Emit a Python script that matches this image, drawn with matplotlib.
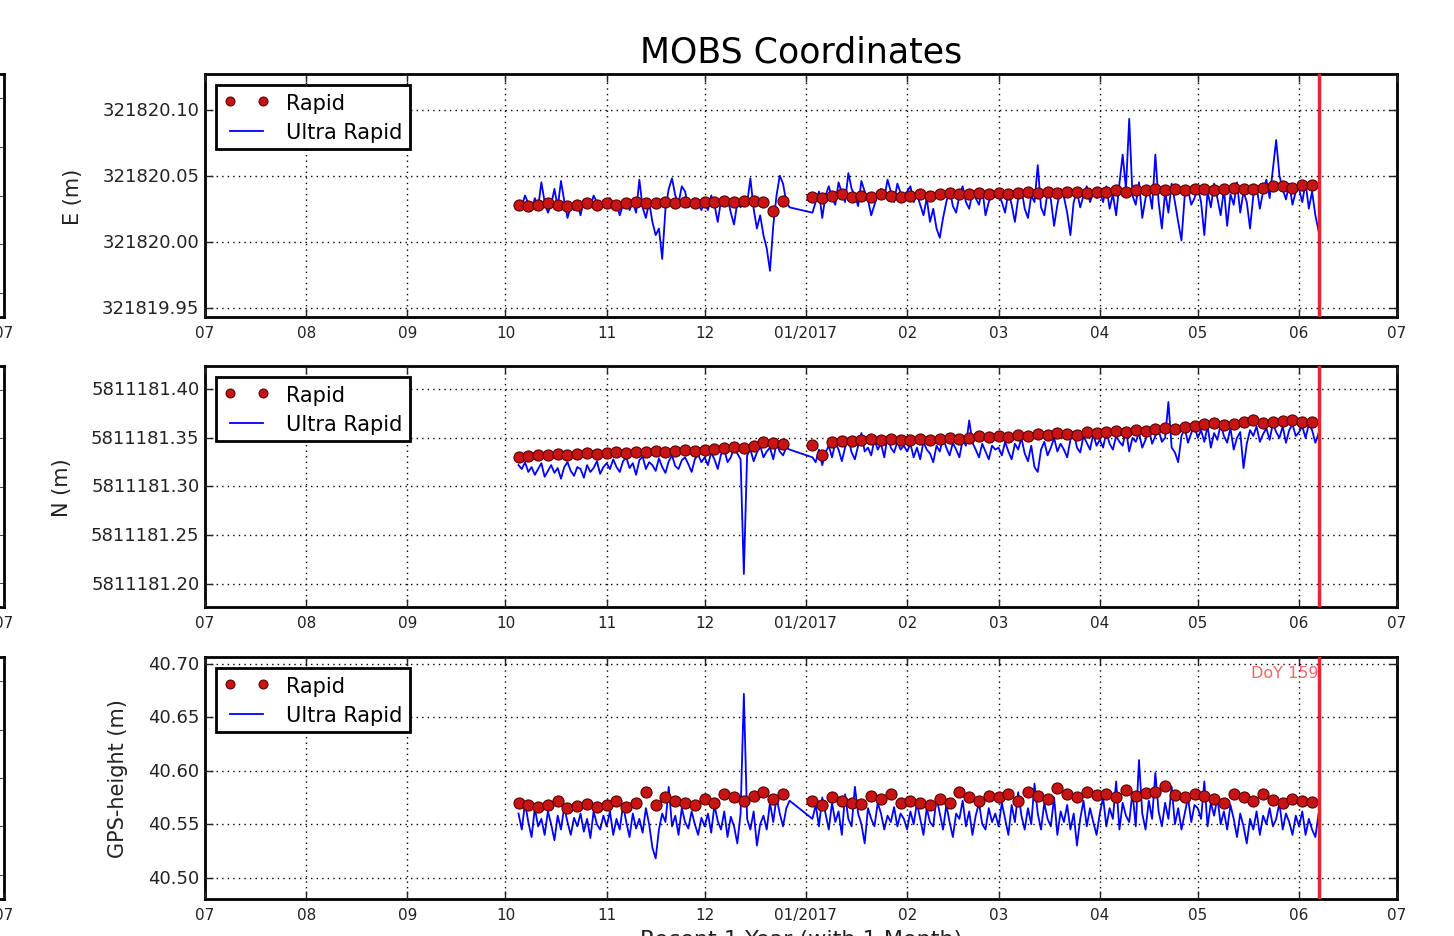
import numpy as np
import pandas as pd
import matplotlib
matplotlib.use('Agg')
import matplotlib.pyplot as plt
import matplotlib.dates as mdates
from matplotlib.ticker import FormatStrFormatter, MultipleLocator, FuncFormatter

nan = np.nan

# ultra rapid solutions, one per day from 2016-10-05, offsets in mm
e_ur = [30, 27, 35, 29, 24, 33, 26, 45, 30, 22, 28, 40, 26, 46, 31, 18, 27, 24, 29, 20, 32, 28, 26, 35, 30, 27, 31,
        27, 33, 25, 29, 20, 28, 31, 24, 30, 22, 47, 26, 18, 30, 15, 5, 10, -13, 25, 40, 48, 35, 29, 42, 38, 26, 30, 33, 28, 24,
        30, 24, 35, 28, 15, 31, 27, 33, 22, 13, 30, 26, 34, 29, 48, 25, 10, 20, 5, -5, -22, 12, 35, 50, 44, 30, 26, nan, nan, nan, nan,
        nan, nan, 22, 30, 38, 18, 35, 42, 33, 28, 45, 37, 30, 52, 40, 35, 27, 46, 38, 32, 20, 28, 36, 40, 33, 47, 38, 30, 44, 37, 35,
        38, 42, 30, 36, 28, 20, 33, 15, 25, 10, 3, 18, 30, 40, 27, 22, 35, 42, 30, 25, 37, 33, 28, 40, 20, 30, 38, 34,
        36, 30, 22, 38, 28, 15, 33, 40, 25, 18, 35, 30, 58, 26, 20, 38, 32, 12, 28, 40, 34, 22, 5, 30, 38, 26, 35, 42, 30, 37, 33,
        38, 30, 42, 25, 36, 20, 44, 66, 40, 93, 35, 28, 45, 18, 33, 40, 25, 66, 30, 10, 38, 22, 44, 30, 15, 1, 35, 40, 28, 33,
        42, 30, 5, 38, 26, 44, 33, 20, 40, 12, 36, 28, 45, 22, 38, 30, 10, 35, 42, 25, 38, 47, 33, 55, 77, 50, 40, 32, 44, 28, 38,
        40, 30, 45, 25, 38, 20, 8]

n_ur = [322, 318, 325, 315, 320, 312, 318, 324, 310, 316, 322, 314, 319, 308, 320, 325, 316, 311, 320, 318, 309, 322, 315, 319, 326, 313, 320,
        324, 318, 328, 320, 315, 326, 330, 319, 324, 312, 327, 331, 318, 325, 322, 316, 329, 320, 314, 326, 332, 321, 318, 327, 330, 323, 315, 328, 333, 325,
        330, 322, 335, 328, 318, 333, 338, 325, 330, 340, 334, 328, 210, 332, 338, 326, 335, 342, 330, 336, 340, 328, 344, 336, 332, 340, 338, nan, nan, nan, nan,
        nan, nan, 330, 325, 338, 322, 335, 342, 330, 345, 338, 326, 340, 350, 335, 328, 342, 355, 336, 340, 332, 348, 338, 344, 330, 352, 340, 335, 346, 338, 342,
        336, 344, 330, 340, 328, 346, 338, 334, 325, 342, 336, 350, 340, 332, 345, 338, 330, 348, 342, 368, 345, 338, 330, 344, 336, 328, 342, 338,
        340, 332, 346, 336, 328, 344, 338, 350, 334, 326, 342, 320, 315, 338, 346, 332, 340, 350, 336, 344, 338, 330, 348, 356, 340, 335, 352, 345, 338, 354, 342,
        348, 340, 356, 344, 338, 352, 346, 342, 358, 336, 350, 346, 355, 340, 348, 360, 344, 352, 358, 346, 350, 387, 340, 335, 325, 352, 360, 345, 355, 362,
        350, 358, 346, 362, 340, 355, 348, 364, 352, 345, 360, 338, 350, 356, 319, 344, 358, 352, 362, 346, 354, 360, 348, 365, 356, 350, 362, 345, 358, 364, 352,
        356, 362, 350, 364, 358, 345, 355]

h_ur = [560, 545, 570, 552, 538, 565, 548, 555, 540, 562, 550, 535, 558, 545, 566, 552, 540, 556, 548, 560, 543, 555, 537, 562, 550, 545, 558,
        548, 562, 540, 555, 545, 568, 552, 538, 560, 546, 555, 542, 565, 550, 528, 518, 545, 560, 552, 585, 548, 558, 540, 565, 552, 546, 562, 550, 540, 556,
        548, 560, 542, 568, 553, 545, 562, 538, 557, 548, 532, 560, 672, 555, 545, 562, 530, 550, 558, 545, 570, 552, 575, 560, 548, 565, 572, nan, nan, nan, nan,
        nan, nan, 555, 568, 548, 575, 560, 545, 570, 552, 562, 540, 578, 555, 548, 585, 560, 550, 532, 565, 555, 548, 570, 560, 545, 558, 552, 566, 548, 560, 555,
        545, 562, 550, 570, 555, 540, 565, 552, 548, 575, 560, 545, 568, 552, 538, 560, 555, 572, 548, 562, 540, 558, 570, 550, 545, 565, 552, 560,
        548, 570, 555, 540, 568, 552, 580, 558, 545, 565, 550, 588, 560, 545, 570, 555, 548, 575, 540, 562, 552, 568, 545, 560, 530, 555, 572, 548, 565, 552, 540,
        560, 575, 548, 565, 555, 590, 545, 570, 558, 552, 580, 548, 610, 560, 545, 572, 555, 598, 562, 548, 570, 555, 585, 550, 565, 545, 560, 575, 552, 568,
        565, 555, 590, 548, 570, 558, 575, 550, 562, 545, 568, 555, 538, 560, 548, 532, 555, 545, 562, 540, 558, 550, 565, 548, 555, 570, 545, 560, 552, 540, 558,
        548, 562, 540, 555, 545, 538, 560]

# rapid solutions, every 3 days from 2016-10-05, offsets in mm
e_rap = [28, 27, 28, 29, 28, 27, 28, 29, 28,
         29, 28, 29, 30, 29, 29, 30, 29, 30, 29,
         30, 30, 31, 30, 31, 31, 30, 23, 31, nan, nan,
         34, 33, 35, 36, 34, 35, 34, 36, 35, 34,
         35, 36, 35, 36, 37, 36, 36, 37, 36,
         37, 36, 37, 38, 37, 38, 37, 38, 38, 37, 38,
         38, 39, 38, 39, 39, 40, 39, 40, 39, 40,
         40, 39, 40, 41, 40, 40, 41, 42, 42, 41,
         43, 43]

n_rap = [330, 331, 332, 332, 333, 332, 333, 334, 333,
         334, 335, 334, 336, 335, 337, 336, 337, 338, 337,
         338, 339, 340, 341, 340, 342, 346, 345, 344, nan, nan,
         343, 332, 346, 347, 347, 348, 349, 348, 349, 348,
         348, 349, 348, 349, 350, 349, 350, 352, 351,
         352, 351, 353, 352, 354, 353, 355, 354, 353, 356, 355,
         356, 357, 356, 358, 357, 359, 360, 359, 361, 362,
         364, 365, 363, 364, 366, 368, 365, 366, 367, 368,
         366, 366]

h_rap = [570, 568, 566, 568, 572, 565, 567, 569, 566,
         568, 572, 566, 570, 580, 568, 575, 572, 570, 568,
         574, 570, 578, 575, 572, 576, 580, 574, 578, nan, nan,
         572, 568, 575, 572, 570, 569, 576, 574, 578, 570,
         572, 570, 568, 574, 570, 580, 575, 572, 576,
         575, 578, 572, 580, 576, 574, 584, 578, 575, 580, 577,
         578, 575, 582, 576, 579, 580, 586, 577, 575, 578,
         576, 574, 570, 578, 575, 572, 578, 573, 570, 574,
         572, 571]

bases = [321820.0, 5811181.0, 40.0]
ylabels = ['E (m)', 'N (m)', 'GPS-height (m)']
ylims = [(321819.943, 321820.127), (5811181.176, 5811181.424), (40.480, 40.7065)]
doy_date = pd.Timestamp('2017-06-07')

plt.style.use('classic')
plt.rcParams['figure.facecolor'] = 'white'
plt.rcParams['savefig.facecolor'] = 'white'
plt.rcParams['font.family'] = ['DejaVu Sans']

fig = plt.figure(figsize=(14.54, 9.37), dpi=100)
rows = [(75, 318), (367, 608), (658, 900)]

def month_fmt(x, pos=None):
    d = mdates.num2date(x)
    if d.month == 1:
        return d.strftime('%m/%Y')
    return d.strftime('%m')

ur_sets = [e_ur, n_ur, h_ur]
rap_sets = [e_rap, n_rap, h_rap]
xlim = (pd.Timestamp('2016-07-01'), pd.Timestamp('2017-07-01'))

for i in range(3):
    top, bot = rows[i]
    ax = fig.add_axes([205 / 1454, 1 - bot / 937, 1192 / 1454, (bot - top) / 937])

    ur = np.array(ur_sets[i], dtype=float)
    d_ur = pd.date_range('2016-10-05', periods=len(ur), freq='D')
    ok = ~np.isnan(ur)
    rap = np.array(rap_sets[i], dtype=float)
    d_rap = pd.date_range('2016-10-05', periods=len(rap), freq='3D')

    l2, = ax.plot(d_ur[ok], bases[i] + ur[ok] / 1000., color='#0000ff', lw=1.3, zorder=2)
    l1, = ax.plot(d_rap, bases[i] + rap / 1000., 'o', mfc='#c81414', mec='#5a0000',
                  ms=8, mew=0.8, zorder=3)
    ax.axvline(doy_date, color='#e8252a', lw=2.5, zorder=4)

    ax.set_xlim(xlim)
    ax.set_ylim(ylims[i])
    ax.xaxis.set_major_locator(mdates.MonthLocator())
    ax.xaxis.set_major_formatter(FuncFormatter(month_fmt))
    ax.yaxis.set_major_locator(MultipleLocator(0.05))
    ax.yaxis.set_major_formatter(FormatStrFormatter('%.2f'))
    ax.tick_params(axis='x', labelsize=11, pad=6, colors='#222222')
    ax.tick_params(axis='y', labelsize=13, colors='#222222')
    ax.tick_params(length=6, width=1)
    ax.grid(True, color='k', linestyle=':', lw=1)
    for s in ax.spines.values():
        s.set_linewidth(2)
    ax.set_ylabel(ylabels[i], fontsize=15, color='#222222', labelpad=14)

    leg = ax.legend([l1, l2], ['Rapid', 'Ultra Rapid'], loc='upper left', numpoints=2,
                    fontsize=15, borderaxespad=0.55, handlelength=2.2, borderpad=0.35,
                    labelspacing=0.45, fancybox=False, markerscale=0.8)
    leg.get_frame().set_linewidth(2)
    leg.get_frame().set_edgecolor('k')

    if i == 0:
        ax.set_title('MOBS Coordinates', fontsize=25, pad=9)
    if i == 2:
        ax.text(doy_date, 40.692, 'DoY 159', color='#ee3333', alpha=0.75,
                fontsize=11.5, ha='right', va='center')

    # edge of the neighbouring panel, cut off by the crop
    axl = fig.add_axes([-0.3, 1 - bot / 937, 0.3 + 4 / 1454, (bot - top) / 937])
    axl.set_xlim(xlim)
    axl.set_xticks([xlim[1]])
    axl.set_xticklabels(['07'])
    axl.set_yticks(np.linspace(0.1, 0.9, 5))
    axl.set_yticklabels([])
    axl.tick_params(axis='x', labelsize=11, pad=6, colors='#222222')
    for s in axl.spines.values():
        s.set_linewidth(2)

fig.text(801 / 1454, 1 - 930 / 937, 'Recent 1 Year (with 1 Month)', fontsize=16,
         ha='center', va='top', color='#222222')

fig.savefig('out.png', dpi=100)
